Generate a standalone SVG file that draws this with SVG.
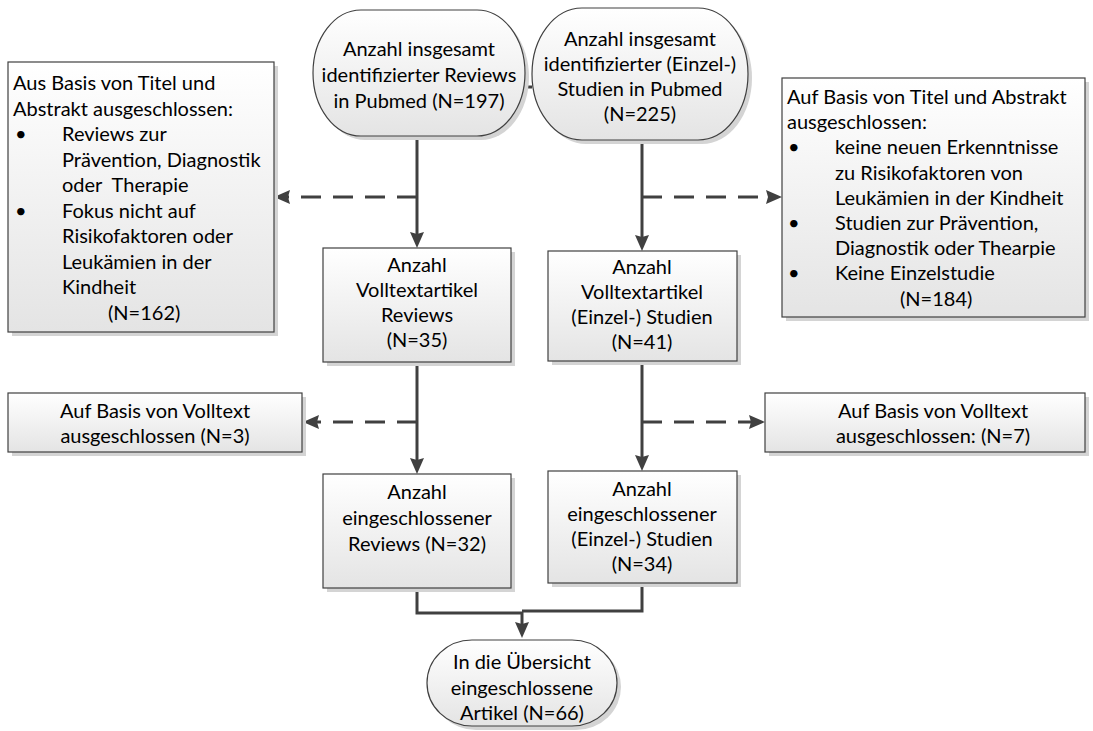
<svg xmlns="http://www.w3.org/2000/svg" width="1093" height="731" viewBox="0 0 1093 731">
<defs>
<linearGradient id="g" x1="0" y1="0" x2="0" y2="1">
<stop offset="0" stop-color="#ffffff"/>
<stop offset="1" stop-color="#e4e4e4"/>
</linearGradient>
<marker id="ah" viewBox="0 0 16 14" refX="10" refY="7" markerWidth="16" markerHeight="14" markerUnits="userSpaceOnUse" orient="auto">
<path d="M0,0 L16,7 L0,14 L2,7 Z" fill="#404040"/>
</marker>
</defs>
<style>
.sh{fill:#d4d4d4;}
.bx{fill:url(#g);stroke:#404040;stroke-width:1.2;}
text{font-family:Lato,"Liberation Sans",sans-serif;font-size:20px;fill:#000;}
.c{text-anchor:middle;}
.ln{fill:none;stroke:#404040;stroke-width:3;}
.ar{marker-end:url(#ah);}
.ds{stroke-dasharray:20 12;}
</style>
<rect width="1093" height="731" fill="#fff"/>

<g id="connectors">
<path class="ln" d="M525,87 H532"/>
<path class="ln ar" d="M417,137 V242"/>
<path class="ln ar" d="M642,140 V245"/>
<path class="ln ar ds" d="M417,197 H280"/>
<path class="ln ar ds" d="M642,197 H776"/>
<path class="ln ar" d="M417,362 V468"/>
<path class="ln ar" d="M642,361 V465"/>
<path class="ln ar ds" d="M417,422 H309"/>
<path class="ln ar ds" d="M642,422 H759"/>
<path class="ln" d="M417,588 V613 H522"/>
<path class="ln" d="M642,583 V611 H522"/>
<path class="ln ar" d="M522,612 V632"/>
</g>

<g id="oval-reviews">
<rect class="sh" x="317" y="14" width="212" height="126" rx="48" ry="63"/>
<rect class="bx" x="313" y="10" width="212" height="126" rx="48" ry="63"/>
<text class="c" x="419" y="56">Anzahl insgesamt</text>
<text class="c" x="419" y="82">identifizierter Reviews</text>
<text class="c" x="419" y="108">in Pubmed (N=197)</text>
</g>

<g id="oval-studien">
<rect class="sh" x="536" y="12" width="216" height="132" rx="50" ry="66"/>
<rect class="bx" x="532" y="8" width="216" height="132" rx="50" ry="66"/>
<text class="c" x="640" y="46">Anzahl insgesamt</text>
<text class="c" x="640" y="71">identifizierter (Einzel-)</text>
<text class="c" x="640" y="96">Studien in Pubmed</text>
<text class="c" x="640" y="121">(N=225)</text>
</g>

<g id="excl-reviews-title">
<rect class="sh" x="12" y="66" width="266" height="270"/>
<rect class="bx" x="8" y="62" width="266" height="270"/>
<text x="13" y="90">Aus Basis von Titel und</text>
<text x="13" y="115.5">Abstrakt ausgeschlossen:</text>
<text x="15" y="141">•</text>
<text x="62" y="141">Reviews zur</text>
<text x="62" y="166.5">Prävention, Diagnostik</text>
<text x="62" y="192" xml:space="preserve">oder  Therapie</text>
<text x="15" y="217.5">•</text>
<text x="62" y="217.5">Fokus nicht auf</text>
<text x="62" y="243">Risikofaktoren oder</text>
<text x="62" y="268.5">Leukämien in der</text>
<text x="62" y="294">Kindheit</text>
<text x="108" y="319.5">(N=162)</text>
</g>

<g id="excl-studien-title">
<rect class="sh" x="786" y="82" width="303" height="239"/>
<rect class="bx" x="782" y="78" width="303" height="239"/>
<text x="787" y="104">Auf Basis von Titel und Abstrakt</text>
<text x="787" y="129.2">ausgeschlossen:</text>
<text x="788" y="154.4">•</text>
<text x="835" y="154.4">keine neuen Erkenntnisse</text>
<text x="835" y="179.6">zu Risikofaktoren von</text>
<text x="835" y="204.8">Leukämien in der Kindheit</text>
<text x="788" y="230">•</text>
<text x="835" y="230">Studien zur Prävention,</text>
<text x="835" y="255.2">Diagnostik oder Thearpie</text>
<text x="788" y="280.4">•</text>
<text x="835" y="280.4">Keine Einzelstudie</text>
<text x="900" y="305.6">(N=184)</text>
</g>

<g id="volltext-reviews">
<rect class="sh" x="327" y="252" width="188" height="114"/>
<rect class="bx" x="323" y="248" width="188" height="114"/>
<text class="c" x="417" y="272">Anzahl</text>
<text class="c" x="417" y="297">Volltextartikel</text>
<text class="c" x="417" y="322">Reviews</text>
<text class="c" x="417" y="347">(N=35)</text>
</g>

<g id="volltext-studien">
<rect class="sh" x="552" y="255" width="189" height="110"/>
<rect class="bx" x="548" y="251" width="189" height="110"/>
<text class="c" x="642" y="274">Anzahl</text>
<text class="c" x="642" y="299">Volltextartikel</text>
<text class="c" x="642" y="324">(Einzel-) Studien</text>
<text class="c" x="642" y="349">(N=41)</text>
</g>

<g id="excl-reviews-volltext">
<rect class="sh" x="12" y="397" width="294" height="59"/>
<rect class="bx" x="8" y="393" width="294" height="59"/>
<text class="c" x="155" y="418">Auf Basis von Volltext</text>
<text class="c" x="155" y="443">ausgeschlossen (N=3)</text>
</g>

<g id="excl-studien-volltext">
<rect class="sh" x="769" y="397" width="320" height="59"/>
<rect class="bx" x="765" y="393" width="320" height="59"/>
<text class="c" x="933" y="418">Auf Basis von Volltext</text>
<text class="c" x="933" y="443">ausgeschlossen: (N=7)</text>
</g>

<g id="eingeschlossen-reviews">
<rect class="sh" x="327" y="478" width="188" height="114"/>
<rect class="bx" x="323" y="474" width="188" height="114"/>
<text class="c" x="417" y="499">Anzahl</text>
<text class="c" x="417" y="525">eingeschlossener</text>
<text class="c" x="417" y="551">Reviews (N=32)</text>
</g>

<g id="eingeschlossen-studien">
<rect class="sh" x="552" y="475" width="189" height="112"/>
<rect class="bx" x="548" y="471" width="189" height="112"/>
<text class="c" x="642" y="496">Anzahl</text>
<text class="c" x="642" y="521">eingeschlossener</text>
<text class="c" x="642" y="546">(Einzel-) Studien</text>
<text class="c" x="642" y="571">(N=34)</text>
</g>

<g id="uebersicht">
<rect class="sh" x="431" y="644" width="190" height="86" rx="45" ry="43"/>
<rect class="bx" x="427" y="640" width="190" height="86" rx="45" ry="43"/>
<text class="c" x="522" y="669">In die Übersicht</text>
<text class="c" x="522" y="695">eingeschlossene</text>
<text class="c" x="522" y="720">Artikel (N=66)</text>
</g>
</svg>
